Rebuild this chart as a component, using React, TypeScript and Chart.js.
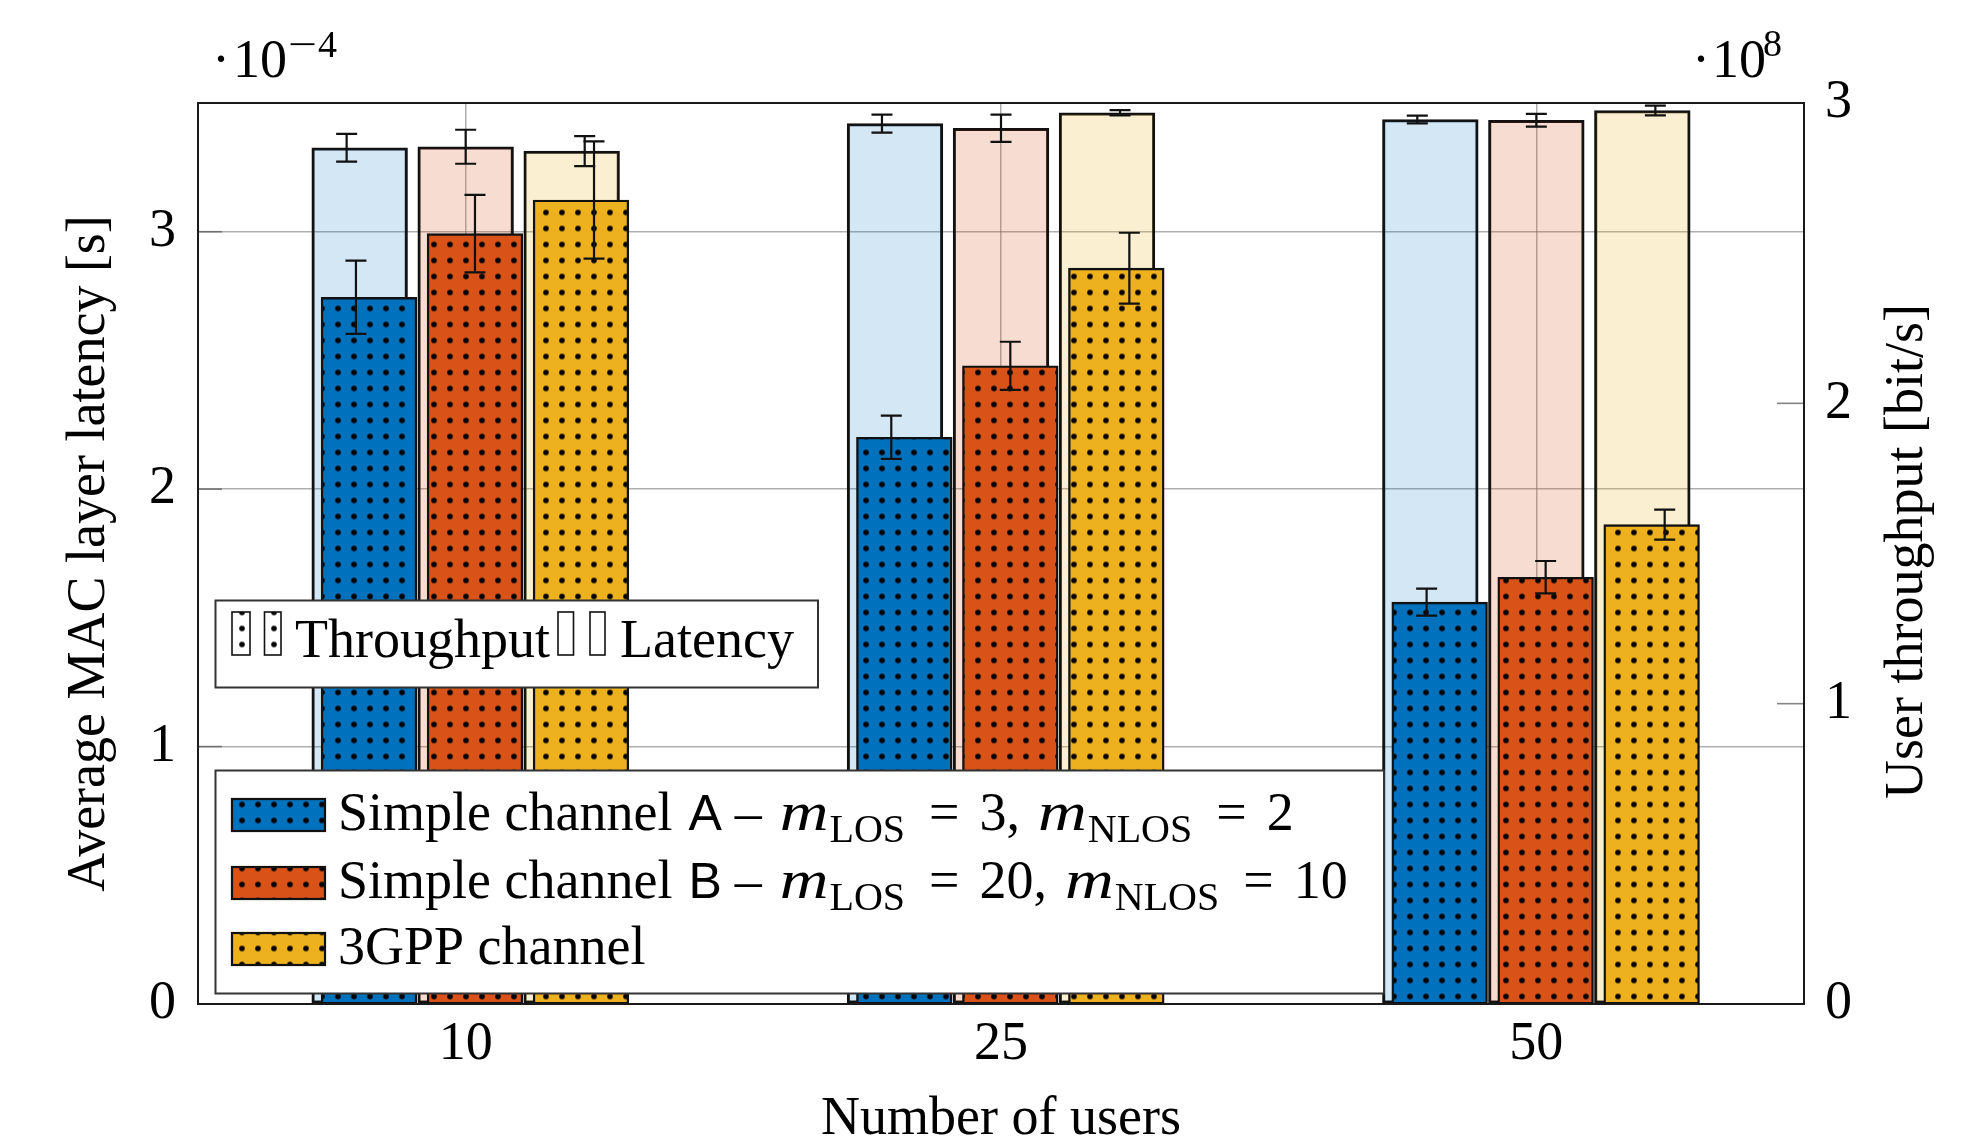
import React, { useEffect, useRef } from 'react';
import { Chart, registerables } from 'chart.js';

Chart.register(...registerables);

// ---------------- data ----------------
const categories = ['10', '25', '50'];
const seriesNames = ['Simple channel A', 'Simple channel B', '3GPP channel'];

// Average MAC layer latency [s] (x 1e-4)
const latencyA = [3.326, 3.42, 3.436];
const latencyB = [3.33, 3.402, 3.433];
const latency3GPP = [3.313, 3.462, 3.471];
const latencyErrA = [0.054, 0.035, 0.015];
const latencyErrB = [0.066, 0.053, 0.025];
const latencyErr3GPP = [0.058, 0.01, 0.019];

// User throughput [bit/s] (x 1e8)
const throughputA = [2.353, 1.887, 1.338];
const throughputB = [2.565, 2.125, 1.421];
const throughput3GPP = [2.677, 2.45, 1.596];
const throughputErrA = [0.122, 0.072, 0.045];
const throughputErrB = [0.129, 0.08, 0.054];
const throughputErr3GPP = [0.195, 0.118, 0.05];

const leftTicks = [0, 1, 2, 3];
const rightTicks = [0, 1, 2, 3];
const leftMax = 3.5;
const rightMax = 3;

// ---------------- style / layout ----------------
const FONT = "'Liberation Serif', 'Times New Roman', serif";
const SANS = "'Liberation Sans', Arial, sans-serif";
const colors = ['#0072BD', '#D95319', '#EDB120'];
const lightColors = ['rgba(0,114,189,0.17)', 'rgba(217,83,25,0.2)', 'rgba(237,177,32,0.2)'];
const GRID = 'rgba(110,110,110,0.55)';
const W = 1966;
const H = 1143;
const BAR_THICKNESS = 95.7; // px
const SLOT = 0.198; // distance between neighbouring bars, in category units
const SHIFT = 0.0174; // throughput group offset, in category units
const ERR_SPREAD = 1.123; // error bars sit slightly wider apart than the bars

function makePattern(ctx: CanvasRenderingContext2D, bg: string): CanvasPattern | string {
  const c = document.createElement('canvas');
  c.width = 16;
  c.height = 16;
  const g = c.getContext('2d')!;
  g.fillStyle = bg;
  g.fillRect(0, 0, 16, 16);
  g.fillStyle = '#000';
  g.beginPath();
  g.arc(8, 8, 2.8, 0, Math.PI * 2);
  g.fill();
  const p = ctx.createPattern(c, 'repeat');
  if (!p) return bg;
  try {
    p.setTransform(new DOMMatrix().translate(-6, -3.5));
  } catch (e) {
    /* ignore */
  }
  return p;
}

const errorBarPlugin = {
  id: 'errorBars',
  afterDatasetDraw(chart: any, args: any) {
    const ds = chart.data.datasets[args.index];
    if (!ds.errVals) return;
    const meta = args.meta;
    const xs = chart.scales[meta.xAxisID];
    const ys = chart.scales[meta.yAxisID];
    const ctx = chart.ctx;
    ctx.save();
    ctx.strokeStyle = '#111';
    ctx.lineWidth = 2.2;
    meta.data.forEach((el: any, i: number) => {
      const c = xs.getPixelForValue(i + ds.groupShift);
      const x = c + (el.x - c) * ERR_SPREAD;
      const v = ds.vals[i];
      const e = ds.errVals[i];
      const y1 = ys.getPixelForValue(v + e);
      const y2 = ys.getPixelForValue(v - e);
      ctx.beginPath();
      ctx.moveTo(x, y1);
      ctx.lineTo(x, y2);
      ctx.moveTo(x - 10.5, y1);
      ctx.lineTo(x + 10.5, y1);
      ctx.moveTo(x - 10.5, y2);
      ctx.lineTo(x + 10.5, y2);
      ctx.stroke();
    });
    ctx.restore();
  },
};

// rich text piece: gap = space before it (px), sx = horizontal stretch
type Part = { t: string; f: string; gap?: number; dy?: number; sx?: number };
function drawRich(ctx: CanvasRenderingContext2D, x: number, y: number, parts: Part[]) {
  for (const p of parts) {
    x += p.gap || 0;
    ctx.font = p.f;
    const sx = p.sx || 1;
    const w = ctx.measureText(p.t).width * sx;
    ctx.save();
    ctx.translate(x, y + (p.dy || 0));
    ctx.scale(sx, 1);
    ctx.fillText(p.t, 0, 0);
    ctx.restore();
    x += w;
  }
}

const decorPlugin = {
  id: 'decor',
  afterDraw(chart: any) {
    const ctx: CanvasRenderingContext2D = chart.ctx;
    const { left, right, top, bottom } = chart.chartArea;
    const y = chart.scales.y;
    const y2 = chart.scales.y2;
    ctx.save();
    // inner tick marks
    ctx.strokeStyle = 'rgba(90,90,90,0.75)';
    ctx.lineWidth = 1.6;
    leftTicks.forEach((t) => {
      const py = y.getPixelForValue(t);
      ctx.beginPath();
      ctx.moveTo(left, py);
      ctx.lineTo(left + 24, py);
      ctx.stroke();
    });
    rightTicks.forEach((t) => {
      const py = y2.getPixelForValue(t);
      ctx.beginPath();
      ctx.moveTo(right - 27, py);
      ctx.lineTo(right, py);
      ctx.stroke();
    });
    // frame
    ctx.strokeStyle = '#1a1a1a';
    ctx.lineWidth = 2;
    ctx.strokeRect(left, top, right - left, bottom - top);

    ctx.fillStyle = '#000';
    ctx.textBaseline = 'alphabetic';
    // exponent labels
    ctx.font = `54px ${FONT}`;
    ctx.textAlign = 'center';
    ctx.fillText('·', left + 23, 77);
    ctx.textAlign = 'left';
    ctx.fillText('10', left + 35, 77);
    drawRich(ctx, left + 90, 57, [
      { t: '−', f: `38px ${FONT}`, sx: 1.35 },
      { t: '4', f: `38px ${FONT}`, gap: 1 },
    ]);
    ctx.font = `54px ${FONT}`;
    ctx.textAlign = 'center';
    ctx.fillText('·', right - 103, 77);
    ctx.textAlign = 'left';
    ctx.fillText('10', right - 92, 77);
    ctx.font = `38px ${FONT}`;
    ctx.fillText('8', right - 41, 56);

    // axis titles
    ctx.font = `54px ${FONT}`;
    ctx.textAlign = 'center';
    ctx.fillText('Number of users', (left + right) / 2, 1134);
    ctx.textBaseline = 'middle';
    ctx.save();
    ctx.translate(90, (top + bottom) / 2);
    ctx.rotate(-Math.PI / 2);
    ctx.fillText('Average MAC layer latency [s]', 0, 0);
    ctx.restore();
    ctx.save();
    ctx.translate(1908, (top + bottom) / 2 - 2);
    ctx.rotate(-Math.PI / 2);
    ctx.fillText('User throughput [bit/s]', 0, 0);
    ctx.restore();
    ctx.textBaseline = 'alphabetic';
    ctx.textAlign = 'left';

    // legend 1: pattern meaning
    const whiteDots = makePattern(ctx, '#ffffff');
    ctx.fillStyle = '#fff';
    ctx.fillRect(215.5, 600.5, 602.5, 87);
    ctx.strokeStyle = '#333';
    ctx.lineWidth = 2;
    ctx.strokeRect(215.5, 600.5, 602.5, 87);
    ctx.lineWidth = 1.6;
    ctx.strokeStyle = '#111';
    const icons1: [number, number, boolean][] = [
      [232, 18, true],
      [264.5, 16.5, true],
      [558, 15.5, false],
      [590, 15, false],
    ];
    icons1.forEach(([ix, iw, dotted]) => {
      ctx.fillStyle = dotted ? (whiteDots as any) : '#fff';
      ctx.fillRect(ix, 612, iw, 43);
      ctx.strokeRect(ix, 612, iw, 43);
    });
    ctx.fillStyle = '#000';
    ctx.font = `54px ${FONT}`;
    ctx.fillText('Throughput', 295, 657);
    ctx.fillText('Latency', 620, 657);

    // legend 2: series
    ctx.fillStyle = '#fff';
    ctx.fillRect(215.5, 770.5, 1168.5, 223);
    ctx.strokeStyle = '#333';
    ctx.lineWidth = 2;
    ctx.strokeRect(215.5, 770.5, 1168.5, 223);
    const rowTops = [799, 867, 933];
    const rowBase = [830, 898, 964];
    const serif = `54px ${FONT}`;
    const ital = `italic 54px ${FONT}`;
    const sub = `40px ${FONT}`;
    const sans = `50px ${SANS}`;
    const mathRow = (letter: string, a: string, b: string): Part[] => [
      { t: 'Simple channel', f: serif },
      { t: letter, f: sans, gap: 16 },
      { t: '–', f: serif, gap: 13 },
      { t: 'm', f: ital, gap: 18, sx: 1.25 },
      { t: 'LOS', f: sub, dy: 12, gap: 1 },
      { t: '=', f: serif, gap: 24 },
      { t: a + ',', f: serif, gap: 20 },
      { t: 'm', f: ital, gap: 18, sx: 1.25 },
      { t: 'NLOS', f: sub, dy: 12, gap: 1 },
      { t: '=', f: serif, gap: 24 },
      { t: b, f: serif, gap: 20 },
    ];
    const rows: Part[][] = [
      mathRow('A', '3', '2'),
      mathRow('B', '20', '10'),
      [{ t: seriesNames[2], f: serif }],
    ];
    rows.forEach((parts, i) => {
      ctx.fillStyle = makePattern(ctx, colors[i]) as any;
      ctx.fillRect(232, rowTops[i], 93, 32);
      ctx.strokeStyle = '#111';
      ctx.lineWidth = 2.2;
      ctx.strokeRect(232, rowTops[i], 93, 32);
      ctx.fillStyle = '#000';
      drawRich(ctx, 338, rowBase[i], parts);
    });
    ctx.restore();
  },
};

export default function App() {
  const ref = useRef<HTMLCanvasElement>(null);
  useEffect(() => {
    document.body.style.margin = '0';
    const canvas = ref.current!;
    const ctx = canvas.getContext('2d')!;
    const latency = [latencyA, latencyB, latency3GPP];
    const latencyErr = [latencyErrA, latencyErrB, latencyErr3GPP];
    const thr = [throughputA, throughputB, throughput3GPP];
    const thrErr = [throughputErrA, throughputErrB, throughputErr3GPP];
    const tickFont = { family: FONT, size: 54 };

    const makeDs = (
      vals: number[],
      errs: number[],
      i: number,
      shift: number,
      yAxisID: string,
      bg: any,
      order: number,
      label: string
    ) => ({
      type: 'bar',
      label,
      // x = category index + this series' slot within the group
      data: vals.map((v, k) => ({ x: k + (i - 1) * SLOT + shift, y: v })),
      vals,
      errVals: errs,
      groupShift: shift,
      xAxisID: 'xb',
      yAxisID,
      grouped: false,
      barThickness: BAR_THICKNESS,
      backgroundColor: bg,
      borderColor: '#111',
      borderWidth: 2.4,
      borderSkipped: false,
      order,
    });

    const datasets: any[] = [];
    thr.forEach((vals, i) =>
      datasets.push(makeDs(vals, thrErr[i], i, SHIFT, 'y2', makePattern(ctx, colors[i]), 0, seriesNames[i] + ' throughput'))
    );
    latency.forEach((vals, i) =>
      datasets.push(makeDs(vals, latencyErr[i], i, 0, 'y', lightColors[i], 1, seriesNames[i] + ' latency'))
    );

    const chart = new Chart(canvas, {
      type: 'bar',
      data: { labels: categories, datasets },
      options: {
        responsive: false,
        animation: false,
        devicePixelRatio: 1,
        layout: { padding: { top: 103, left: 0, right: 0, bottom: 0 } },
        plugins: { legend: { display: false }, tooltip: { enabled: false } },
        scales: {
          x: {
            type: 'category',
            position: 'bottom',
            offset: true,
            grid: { offset: false, color: GRID, lineWidth: 1.5, drawTicks: false },
            border: { display: false },
            ticks: { font: tickFont, color: '#000', padding: 8 },
            afterFit: (s: any) => {
              s.height = 139;
            },
          },
          xb: {
            type: 'linear',
            axis: 'x',
            position: 'bottom',
            display: false,
            offset: false,
            bounds: 'data',
            min: -0.5,
            max: categories.length - 0.5,
            ticks: { stepSize: 1 },
            grid: { display: false, offset: false },
          },
          y: {
            type: 'linear',
            position: 'left',
            stacked: false,
            min: 0,
            max: leftMax,
            afterBuildTicks: (s: any) => {
              s.ticks = leftTicks.map((v) => ({ value: v }));
            },
            ticks: { font: tickFont, color: '#000', padding: 22 },
            grid: { color: GRID, lineWidth: 1.5, drawTicks: false },
            border: { display: false },
            afterFit: (s: any) => {
              s.width = 198;
            },
          },
          y2: {
            type: 'linear',
            position: 'right',
            stacked: false,
            min: 0,
            max: rightMax,
            afterBuildTicks: (s: any) => {
              s.ticks = rightTicks.map((v) => ({ value: v }));
            },
            ticks: { font: tickFont, color: '#000', padding: 21 },
            grid: { display: false, drawTicks: false },
            border: { display: false },
            afterFit: (s: any) => {
              s.width = 162;
            },
          },
        } as any,
      },
      plugins: [errorBarPlugin, decorPlugin],
    } as any);
    return () => chart.destroy();
  }, []);

  return (
    <div style={{ width: W, height: H, overflow: 'hidden', background: '#fff' }}>
      <canvas ref={ref} width={W} height={H} style={{ display: 'block', width: W, height: H }} />
    </div>
  );
}
